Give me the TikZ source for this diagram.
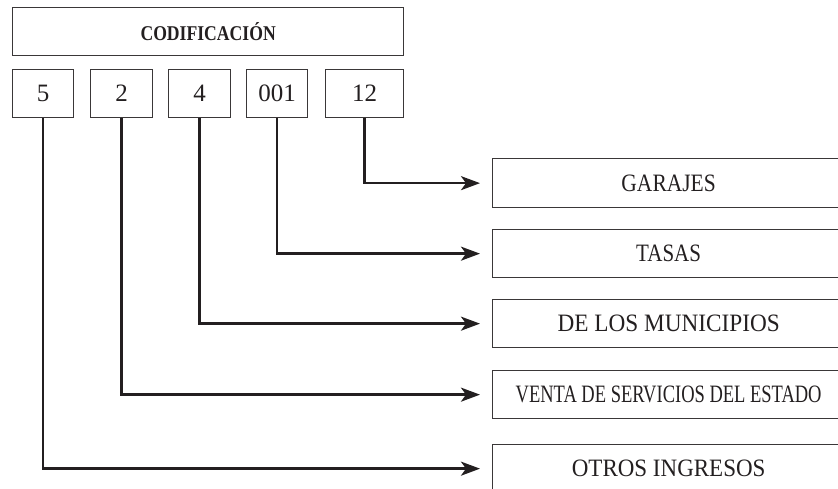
\documentclass[tikz,border=0pt]{standalone}
\usepackage{fontspec}
\setmainfont{Liberation Serif}
\usetikzlibrary{arrows.meta}
\definecolor{ink}{HTML}{231F20}
\definecolor{frame}{HTML}{3A3738}
\tikzset{
  box/.style={draw=frame, line width=1.3pt, rectangle, inner sep=0pt, anchor=north west,
    text=ink, font=\fontsize{25}{29}\selectfont},
  conn/.style={draw=ink, line width=2.6pt,
    -{Stealth[length=19pt,width=14pt,inset=5pt]}, shorten >=12pt}
}
\begin{document}
\begin{tikzpicture}[x=1pt,y=-1pt]
\useasboundingbox (0,0) rectangle (838,488);
% header
\node[box, minimum width=391pt, minimum height=48pt, font=\fontsize{21}{25}\selectfont\bfseries] (cod) at (12,7) {\scalebox{0.84}[1]{CODIFICACIÓN}};
% code boxes
\node[box, minimum width=61pt, minimum height=48pt] (b5) at (12,69) {5};
\node[box, minimum width=62pt, minimum height=48pt] (b2) at (90,69) {2};
\node[box, minimum width=62pt, minimum height=48pt] (b4) at (168,69) {4};
\node[box, minimum width=61pt, minimum height=48pt] (b001) at (246,69) {001};
\node[box, minimum width=78pt, minimum height=48pt] (b12) at (325,69) {12};
% description boxes
\node[box, minimum width=352pt, minimum height=49pt] (gar) at (492,158) {\scalebox{0.86}[1]{GARAJES}};
\node[box, minimum width=352pt, minimum height=48pt] (tas) at (492,229) {\scalebox{0.84}[1]{TASAS}};
\node[box, minimum width=352pt, minimum height=48pt] (mun) at (492,299) {\scalebox{0.93}[1]{DE LOS MUNICIPIOS}};
\node[box, minimum width=352pt, minimum height=48pt] (ven) at (492,370) {\scalebox{0.74}[1]{VENTA DE SERVICIOS DEL ESTADO}};
\node[box, minimum width=352pt, minimum height=48pt] (otr) at (492,444) {\scalebox{0.92}[1]{OTROS INGRESOS}};
% connectors
\draw[conn] (b12.south) |- (gar.west);
\draw[conn] (b001.south) |- (tas.west);
\draw[conn] (b4.south) |- (mun.west);
\draw[conn] (b2.south) |- (ven.west);
\draw[conn] (b5.south) |- (otr.west);
\end{tikzpicture}
\end{document}
